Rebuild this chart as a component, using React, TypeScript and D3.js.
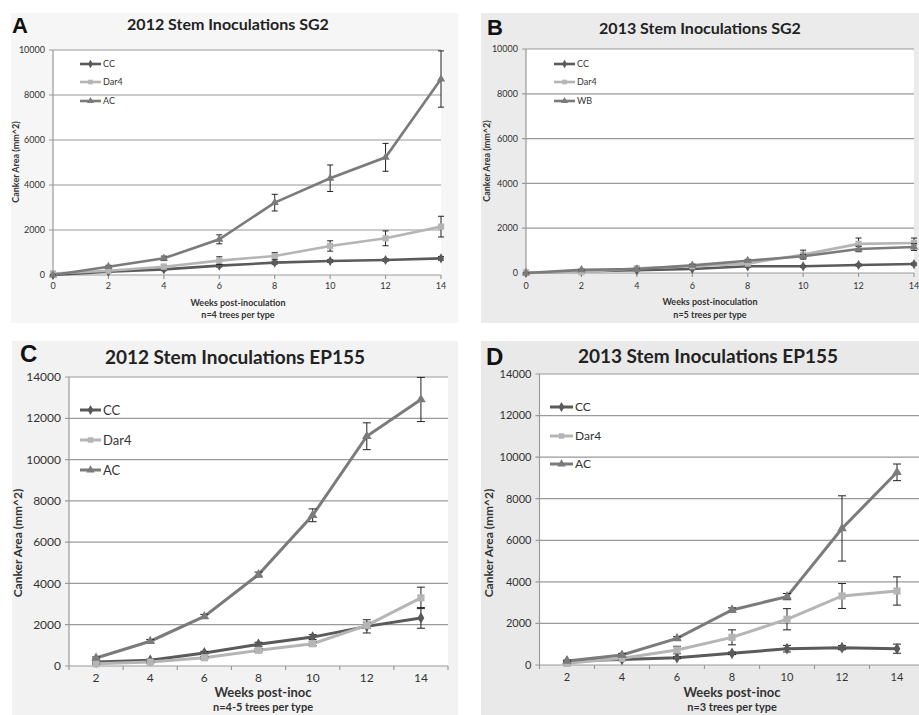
import React from "react";
import * as d3 from "d3";

// ---- data ----
const weeksSG2 = [0, 2, 4, 6, 8, 10, 12, 14];
const weeksEP = [2, 4, 6, 8, 10, 12, 14];

const a2012CC = [0, 150, 250, 415, 548, 622, 667, 740];
const a2012CCErr = [20, 40, 60, 60, 70, 60, 60, 80];
const a2012Dar4 = [70, 190, 370, 640, 845, 1290, 1630, 2150];
const a2012Dar4Err = [30, 60, 100, 170, 150, 230, 330, 460];
const a2012AC = [0, 370, 740, 1585, 3215, 4300, 5230, 8710];
const a2012ACErr = [20, 60, 100, 200, 370, 590, 620, 1250];

const b2013CC = [0, 75, 120, 180, 300, 300, 357, 400];
const b2013CCErr = [10, 20, 30, 30, 40, 40, 50, 50];
const b2013Dar4 = [30, 40, 210, 300, 420, 820, 1300, 1340];
const b2013Dar4Err = [10, 20, 40, 60, 100, 200, 260, 220];
const b2013WB = [0, 140, 180, 340, 550, 745, 1070, 1160];
const b2013WBErr = [10, 30, 30, 50, 60, 80, 120, 150];

const c2012CC = [190, 275, 630, 1050, 1400, 1920, 2330];
const c2012CCErr = [40, 60, 80, 100, 120, 320, 500];
const c2012Dar4 = [110, 190, 400, 760, 1080, 1970, 3300];
const c2012Dar4Err = [30, 40, 60, 80, 100, 150, 520];
const c2012AC = [390, 1200, 2400, 4430, 7300, 11130, 12910];
const c2012ACErr = [50, 80, 100, 120, 310, 650, 1070];

const d2013CC = [190, 270, 350, 560, 785, 834, 785];
const d2013CCErr = [30, 40, 50, 60, 160, 100, 220];
const d2013Dar4 = [80, 320, 720, 1330, 2200, 3320, 3560];
const d2013Dar4Err = [30, 60, 180, 360, 510, 600, 680];
const d2013AC = [190, 480, 1280, 2650, 3290, 6570, 9270];
const d2013ACErr = [40, 80, 80, 100, 150, 1570, 400];

const FONT = "Lato, 'Open Sans', sans-serif";
const colCC = "#5a5a5a";
const colDar4 = "#b5b5b5";
const colAC = "#7b7b7b";

type Series = { name: string; values: number[]; err: number[]; color: string; shape: string };

function mkSeries(names: string[], vals: number[][], errs: number[][]): Series[] {
  const colors = [colCC, colDar4, colAC];
  const shapes = ["diamond", "square", "triangle"];
  return names.map((n, i) => ({ name: n, values: vals[i], err: errs[i], color: colors[i], shape: shapes[i] }));
}

function symbolPath(shape: string, size: number) {
  const t = shape === "diamond" ? d3.symbolDiamond : shape === "square" ? d3.symbolSquare : d3.symbolTriangle;
  return d3.symbol().type(t).size(size)() as string;
}

function Panel({ cfg, weeks, series }: any) {
  const { plot } = cfg;
  const yScale = d3.scaleLinear().domain([0, cfg.yMax]).range([plot.bottom, plot.top]);
  const band = d3.scaleBand<number>().domain(weeks).range([plot.left, plot.right]);
  const lin = d3.scaleLinear().domain([0, 14]).range([plot.left, plot.right]);
  const xOf = (w: number) => (cfg.category ? (band(w) as number) + band.bandwidth() / 2 : lin(w));
  const yTicks = d3.range(0, cfg.yMax + 1, 2000);
  const line = d3.line<number>().x((d, i) => xOf(weeks[i])).y(d => yScale(d));
  const tickMarks = cfg.category ? [...weeks.map((w: number) => band(w) as number), plot.right] : weeks.map(lin);
  const capW = cfg.capW;

  return (
    <g>
      <rect x={cfg.bg.x} y={cfg.bg.y} width={cfg.bg.w} height={cfg.bg.h} fill={cfg.bg.fill} />
      <rect x={plot.left} y={plot.top} width={plot.right - plot.left} height={plot.bottom - plot.top} fill="#fff" />
      {yTicks.map(t => (
        <g key={t}>
          <line x1={plot.left - 4} x2={plot.right} y1={yScale(t)} y2={yScale(t)} stroke="#9a9a9a" strokeWidth={1.2} />
          <text x={plot.left - 8} y={yScale(t)} dy="0.35em" textAnchor="end" fontSize={cfg.tickFont} fill="#333" fontFamily={FONT}>
            {t}
          </text>
        </g>
      ))}
      <line x1={plot.left} x2={plot.left} y1={plot.top} y2={plot.bottom} stroke="#9a9a9a" strokeWidth={1.2} />
      {tickMarks.map((x: number, i: number) => (
        <line key={i} x1={x} x2={x} y1={plot.bottom} y2={plot.bottom + 4} stroke="#9a9a9a" strokeWidth={1.2} />
      ))}
      {weeks.map((w: number) => (
        <text key={w} x={xOf(w)} y={cfg.xTickY} textAnchor="middle" fontSize={cfg.xTickFont} fill="#333" fontFamily={FONT}>
          {w}
        </text>
      ))}
      {series.map((s: Series) => (
        <g key={s.name}>
          <path d={line(s.values) as string} fill="none" stroke={s.color} strokeWidth={cfg.lineW} />
          {s.values.map((v, i) => {
            const x = xOf(weeks[i]);
            return (
              <g key={i}>
                <line x1={x} x2={x} y1={yScale(v + s.err[i])} y2={yScale(Math.max(0, v - s.err[i]))} stroke="#222" strokeWidth={1} />
                <line x1={x - capW} x2={x + capW} y1={yScale(v + s.err[i])} y2={yScale(v + s.err[i])} stroke="#222" strokeWidth={1} />
                <line x1={x - capW} x2={x + capW} y1={yScale(Math.max(0, v - s.err[i]))} y2={yScale(Math.max(0, v - s.err[i]))} stroke="#222" strokeWidth={1} />
                <path d={symbolPath(s.shape, s.shape === "square" ? cfg.markSize * 1.3 : cfg.markSize)} transform={`translate(${x},${yScale(v)})`} fill={s.color} />
              </g>
            );
          })}
        </g>
      ))}
      {series.map((s: Series, i: number) => {
        const y = cfg.legend.rows[i];
        const mid = (cfg.legend.x1 + cfg.legend.x2) / 2;
        return (
          <g key={"lg" + s.name}>
            <line x1={cfg.legend.x1} x2={cfg.legend.x2} y1={y} y2={y} stroke={s.color} strokeWidth={cfg.lineW} />
            <path d={symbolPath(s.shape, cfg.legend.mark)} transform={`translate(${mid},${y})`} fill={s.color} />
            <text x={cfg.legend.x2 + 2} y={y} dy="0.35em" fontSize={cfg.legend.font} fill="#333" fontFamily={FONT}>
              {s.name}
            </text>
          </g>
        );
      })}
      <text x={cfg.letter.x} y={cfg.letter.y} fontSize={cfg.letter.size} fontWeight="bold" fontFamily="'Liberation Sans', Arial, sans-serif" fill="#111">
        {cfg.letter.text}
      </text>
      <text x={cfg.title.x} y={cfg.title.y} textAnchor="middle" fontSize={cfg.title.size} fontWeight="bold" fontFamily={FONT} fill="#222">
        {cfg.title.text}
      </text>
      <text transform={`translate(${cfg.yLabel.x},${cfg.yLabel.y}) rotate(-90)`} textAnchor="middle" dy="0.35em" fontSize={cfg.yLabel.size} fontWeight="bold" fontFamily={FONT} fill="#333">
        Canker Area (mm^2)
      </text>
      <text x={cfg.xLabel.x} y={cfg.xLabel.y1} textAnchor="middle" fontSize={cfg.xLabel.size1} fontWeight="bold" fontFamily={FONT} fill="#333">
        {cfg.xLabel.text}
      </text>
      <text x={cfg.xLabel.x} y={cfg.xLabel.y2} textAnchor="middle" fontSize={cfg.xLabel.size2} fontWeight="bold" fontFamily={FONT} fill="#333">
        {cfg.xLabel.n}
      </text>
    </g>
  );
}

const cfgA = {
  bg: { x: 11, y: 13, w: 447, h: 310, fill: "#f6f6f6" },
  plot: { left: 53, right: 441, top: 50, bottom: 275 },
  yMax: 10000, category: false, tickFont: 9, xTickFont: 9, xTickY: 289, lineW: 2.6, markSize: 30, capW: 3,
  legend: { x1: 80, x2: 101, rows: [64, 82, 101], font: 9, mark: 22 },
  letter: { text: "A", x: 12, y: 33, size: 22 },
  title: { text: "2012 Stem Inoculations SG2", x: 228, y: 30, size: 16 },
  yLabel: { x: 16, y: 162, size: 9 },
  xLabel: { x: 238, y1: 306, y2: 318, size1: 9, size2: 9, text: "Weeks post-inoculation", n: "n=4 trees per type" },
};
const cfgB = {
  bg: { x: 481, y: 13, w: 438, h: 310, fill: "#ebebeb" },
  plot: { left: 526, right: 914, top: 49, bottom: 273 },
  yMax: 10000, category: false, tickFont: 9, xTickFont: 9, xTickY: 289, lineW: 2.6, markSize: 30, capW: 3,
  legend: { x1: 554, x2: 575, rows: [64, 82, 101], font: 9, mark: 22 },
  letter: { text: "B", x: 487, y: 35, size: 22 },
  title: { text: "2013 Stem Inoculations SG2", x: 700, y: 34, size: 16 },
  yLabel: { x: 487, y: 161, size: 9 },
  xLabel: { x: 710, y1: 305, y2: 318, size1: 9, size2: 9, text: "Weeks post-inoculation", n: "n=5 trees per type" },
};
const cfgC = {
  bg: { x: 12, y: 341, w: 446, h: 374, fill: "#f2f2f2" },
  plot: { left: 69, right: 448, top: 377, bottom: 666 },
  yMax: 14000, category: true, tickFont: 12, xTickFont: 12, xTickY: 682, lineW: 3, markSize: 40, capW: 4,
  legend: { x1: 80, x2: 101, rows: [410, 440, 470], font: 13, mark: 30 },
  letter: { text: "C", x: 20, y: 362, size: 24 },
  title: { text: "2012 Stem Inoculations EP155", x: 235, y: 364, size: 19 },
  yLabel: { x: 18, y: 543, size: 12 },
  xLabel: { x: 263, y1: 697, y2: 711, size1: 13, size2: 11, text: "Weeks post-inoc", n: "n=4-5 trees per type" },
};
const cfgD = {
  bg: { x: 481, y: 341, w: 438, h: 374, fill: "#e9e9e9" },
  plot: { left: 539.5, right: 924.5, top: 374, bottom: 665 },
  yMax: 14000, category: true, tickFont: 11, xTickFont: 11, xTickY: 681, lineW: 3, markSize: 40, capW: 4,
  legend: { x1: 550, x2: 573, rows: [407, 436, 464], font: 12, mark: 30 },
  letter: { text: "D", x: 486, y: 365, size: 24 },
  title: { text: "2013 Stem Inoculations EP155", x: 708, y: 363, size: 19 },
  yLabel: { x: 489, y: 543, size: 12 },
  xLabel: { x: 732, y1: 697, y2: 711, size1: 13, size2: 11, text: "Weeks post-inoc", n: "n=3 trees per type" },
};

export default function App() {
  const sA = mkSeries(["CC", "Dar4", "AC"], [a2012CC, a2012Dar4, a2012AC], [a2012CCErr, a2012Dar4Err, a2012ACErr]);
  const sB = mkSeries(["CC", "Dar4", "WB"], [b2013CC, b2013Dar4, b2013WB], [b2013CCErr, b2013Dar4Err, b2013WBErr]);
  const sC = mkSeries(["CC", "Dar4", "AC"], [c2012CC, c2012Dar4, c2012AC], [c2012CCErr, c2012Dar4Err, c2012ACErr]);
  const sD = mkSeries(["CC", "Dar4", "AC"], [d2013CC, d2013Dar4, d2013AC], [d2013CCErr, d2013Dar4Err, d2013ACErr]);
  return (
    <div style={{ position: "absolute", left: 0, top: 0 }}>
      <svg width={919} height={715} style={{ display: "block", background: "#fff" }}>
        <Panel cfg={cfgA} weeks={weeksSG2} series={sA} />
        <Panel cfg={cfgB} weeks={weeksSG2} series={sB} />
        <Panel cfg={cfgC} weeks={weeksEP} series={sC} />
        <Panel cfg={cfgD} weeks={weeksEP} series={sD} />
      </svg>
    </div>
  );
}
